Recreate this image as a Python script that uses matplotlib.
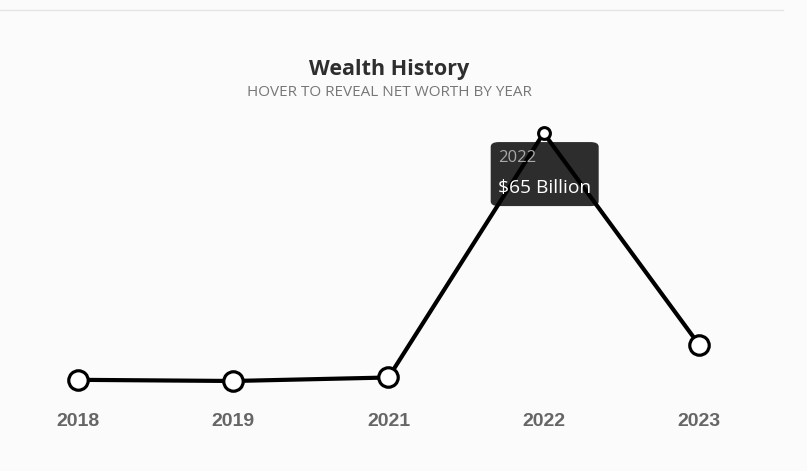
import matplotlib
matplotlib.use("Agg")
from matplotlib import pyplot as plt
from matplotlib.patches import FancyBboxPatch
from matplotlib.lines import Line2D

# data (net worth, billions USD)
years = ["2018", "2019", "2021", "2022", "2023"]
worth = [1.4, 1.1, 2.0, 65.0, 10.5]
highlight = 3
tip_label = "$65 Billion"

W, H = 807, 471
BG = "#fbfbfb"

fig = plt.figure(figsize=(W / 100, H / 100), dpi=100, facecolor=BG)
ax = fig.add_axes([0, 0, 1, 1])
ax.set_facecolor(BG)
ax.set_xlim(-0.502, 4.696)
ax.set_ylim(-22.1, 99.3)
ax.axis("off")

xs = list(range(len(years)))
ax.plot(xs, worth, color="black", lw=3.0, zorder=3, solid_capstyle="round")
small = [i for i in xs if i != highlight]
ax.plot(small, [worth[i] for i in small], ls="none", marker="o", ms=14,
        mfc="white", mec="black", mew=2.3, zorder=4)
ax.plot([highlight], [worth[highlight]], ls="none", marker="o", ms=8.5,
        mfc="white", mec="black", mew=2.2, zorder=4)

# year labels under each point
for i, y in enumerate(years):
    px, _ = ax.transData.transform((i, 0))
    fig.text(px / W, 1 - 421 / H, y, ha="center", va="center",
             fontsize=14, fontweight="bold", color="#666666",
             family="Liberation Sans")

# tooltip box anchored at highlighted point
px, py = ax.transData.transform((highlight, worth[highlight]))
left, right = px - 53, px + 55
top, bottom = py - 9, py - 73
box = FancyBboxPatch((left / W, bottom / H), (right - left) / W, (top - bottom) / H,
                     boxstyle="round,pad=0,rounding_size=0.01",
                     transform=fig.transFigure, facecolor="#2d2d2d",
                     edgecolor="none", zorder=2)
ax.add_patch(box)
ax.text((left + 7) / W, (top - 16) / H, years[highlight], transform=fig.transFigure,
        ha="left", va="center", fontsize=12, color="#a8a8a8",
        family="Open Sans", zorder=5)
ax.text((left + 7) / W, (top - 46) / H, tip_label, transform=fig.transFigure,
        ha="left", va="center", fontsize=13.8, color="white",
        family="Open Sans", zorder=5)

# header
fig.text(389 / W, 1 - 70 / H, "Wealth History", ha="center", va="center",
         fontsize=15.5, fontweight="bold", color="#2e2e2e", family="Open Sans")
fig.text(389 / W, 1 - 93 / H, "HOVER TO REVEAL NET WORTH BY YEAR", ha="center",
         va="center", fontsize=11, color="#777777", family="Open Sans")

# thin separator at top of page
fig.add_artist(Line2D([0, 783 / W], [1 - 10 / H, 1 - 10 / H], color="#e4e4e4",
                      lw=1, transform=fig.transFigure))

fig.savefig("out.png", dpi=100, facecolor=BG)
